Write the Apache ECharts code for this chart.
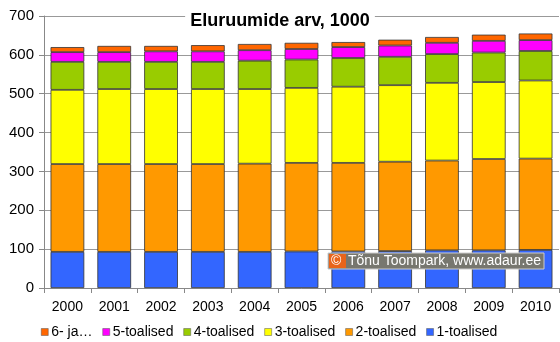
<!DOCTYPE html>
<html><head><meta charset="utf-8">
<script src="https://cdn.jsdelivr.net/npm/echarts@6/dist/echarts.min.js"></script>
<style>html,body{margin:0;padding:0;background:#fff}#c{width:560px;height:342px}</style>
</head><body><div id="c"></div>
<script>
const categories = ['2000','2001','2002','2003','2004','2005','2006','2007','2008','2009','2010'];
const rooms1 = [93,93,93,93,93,94,94,95,97,97,98];
const rooms2 = [226,226,226,226,227,228,228,230,231,235,235];
const rooms3 = [191,193,193,193,192,193,196,197,200,198,201];
const rooms4 = [72,70,70,70,73,73,74,73,74,76,76];
const rooms5 = [25,25,27,27,27,27,28,29,29,30,28];
const rooms6 = [13,16,14,16,16,16,13,15,15,16,17];
const seriesNames = ['1-toalised','2-toalised','3-toalised','4-toalised','5-toalised','6- ja…'];
const seriesColors = ['#3366FF','#FF9900','#FFFF00','#99CC00','#FF00FF','#FF6600'];
const seriesData = [rooms1,rooms2,rooms3,rooms4,rooms5,rooms6];

const chart = echarts.init(document.getElementById('c'));
const font = 'Liberation Sans, Arial, sans-serif';
chart.setOption({
  animation: false,
  title: {
    text: 'Eluruumide arv, 1000', left: 'center', top: 10,
    backgroundColor: '#fff', padding: [2, 5],
    textStyle: {fontFamily: font, fontSize: 18, fontWeight: 'bold', color: '#000'}
  },
  legend: {
    top: 320, left: 36, itemWidth: 7, itemHeight: 7, itemGap: 10,
    icon: 'rect',
    data: ['6- ja…','5-toalised','4-toalised','3-toalised','2-toalised','1-toalised'],
    textStyle: {fontFamily: font, fontSize: 14, color: '#000', padding: [0,0,0,-2]},
    itemStyle: {borderColor: '#555', borderWidth: 0.5}
  },
  grid: {left: 44, right: 1, top: 16, bottom: 54},
  xAxis: {
    type: 'category', data: categories,
    axisLine: {lineStyle: {color: '#888'}},
    axisTick: {show: true, alignWithLabel: false, length: 5, lineStyle: {color: '#888'}},
    axisLabel: {fontFamily: font, fontSize: 14, color: '#000', margin: 12}
  },
  yAxis: {
    type: 'value', min: 0, max: 700, interval: 100,
    axisLine: {show: true, lineStyle: {color: '#888'}},
    axisTick: {show: true, length: 5, lineStyle: {color: '#888'}},
    axisLabel: {fontFamily: font, fontSize: 15, color: '#000', margin: 10},
    splitLine: {lineStyle: {color: '#999'}}
  },
  series: seriesData.map((d, i) => ({
    name: seriesNames[i], type: 'bar', stack: 'all', data: d,
    barCategoryGap: '28%',
    itemStyle: {color: seriesColors[i], borderColor: '#333', borderWidth: 0.8}
  })),
  graphic: [
    {type: 'rect', shape: {x: 328, y: 253, width: 216, height: 16},
     style: {fill: '#77776f', stroke: '#ccc', lineWidth: 1}, z: 100},
    {type: 'rect', shape: {x: 329, y: 254, width: 17, height: 14},
     style: {fill: '#E8641B'}, z: 101},
    {type: 'text', x: 331, y: 254, style: {text: '©', fill: '#fff', font: '14px ' + font}, z: 102},
    {type: 'text', x: 348, y: 254, style: {text: 'Tõnu Toompark, www.adaur.ee', fill: '#fff', font: '14px ' + font}, z: 102}
  ]
});
</script></body></html>
